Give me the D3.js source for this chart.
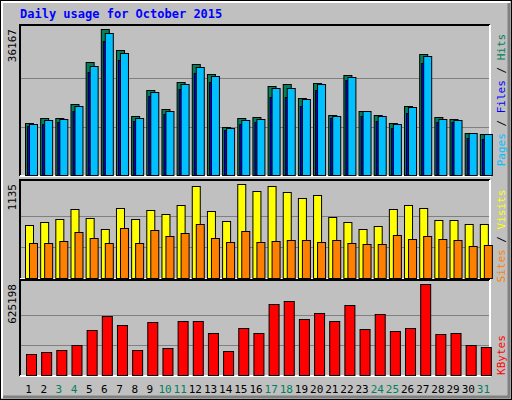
<!DOCTYPE html>
<html><head><meta charset="utf-8">
<script src="https://cdn.jsdelivr.net/npm/d3@7"></script>
<style>
  body { margin: 0; background: #fff; }
  svg text { font-family: "DejaVu Sans Mono", monospace; }
</style></head>
<body><svg id="chart" width="512" height="400"></svg>
<script>
// ---- data ----
const days = d3.range(1, 32);
const weekends = [3, 4, 10, 11, 17, 18, 24, 25, 31];
const hits = [13040,14270,14270,17710,28040,36167,31000,14760,21160,16480,23120,27550,25090,12050,14270,14510,22140,22630,19190,22880,15010,24850,15990,15010,13040,17220,30010,14510,14020,10580,10330];
const files = [12300,12790,13280,15990,25580,33210,28540,13530,19680,15250,21400,25340,23120,11320,12790,13280,19430,19430,17220,21160,14270,23620,14760,13530,11810,15500,27800,13280,13280,9350,9100];
const pages = [12800,13780,14020,17220,27050,35200,30300,14270,20670,16000,22630,26800,24600,11800,13780,14020,21650,21650,18950,22630,14760,24360,15990,14760,12800,16980,29500,14020,13780,10580,10330];
const visits = [644,680,716,836,728,596,848,716,824,776,884,1112,812,692,1135,1052,1112,1040,968,1004,740,680,596,632,836,884,848,704,704,656,656];
const sites = [428,428,452,560,488,428,608,428,584,512,548,656,488,440,572,440,452,464,464,440,464,428,416,416,524,476,512,476,464,392,404];
const kbytes = [152900,159700,173400,207700,310400,406200,344600,173400,365100,187100,372000,372000,289800,166600,324000,289800,488300,508900,385700,426700,372000,481500,317200,419900,303500,324000,625198,283000,289800,207700,194000];

const svg = d3.select("#chart");
const W = 512, H = 400;

// frame
svg.append("rect").attr("x", 0.5).attr("y", 0.5).attr("width", W - 1).attr("height", H - 1)
  .attr("fill", "#c0c0c0").attr("stroke", "#000");
svg.append("path").attr("d", `M2,${H-2} V2 H${W-2}`).attr("fill", "none").attr("stroke", "#fff").attr("stroke-width", 2);
svg.append("path").attr("d", `M3,${H-3} H${W-3} V3`).attr("fill", "none").attr("stroke", "#808080").attr("stroke-width", 3);

svg.append("text").attr("x", 20).attr("y", 18).attr("fill", "#0000ff")
  .attr("font-size", 12).attr("font-weight", "bold").text("Daily usage for October 2015");

const x = d3.scaleBand().domain(days).range([20, 490]);

function panel(top, bottom, max) {
  svg.append("path").attr("d", `M20,${bottom} V${top} H490`).attr("fill", "none").attr("stroke", "#000").attr("stroke-width", 2);
  svg.append("path").attr("d", `M490,${top} V${bottom} H20`).attr("fill", "none").attr("stroke", "#fff").attr("stroke-width", 2);
  const y = d3.scaleLinear().domain([0, max]).range([bottom, top + 4]);
  [max / 3, 2 * max / 3].forEach(v => {
    svg.append("line").attr("x1", 21).attr("x2", 489).attr("y1", Math.round(y(v)) + 0.5).attr("y2", Math.round(y(v)) + 0.5)
      .attr("stroke", "#808080");
  });
  svg.append("text").attr("transform", `translate(16,${top + 4}) rotate(-90)`)
    .attr("text-anchor", "end").attr("font-size", 11).attr("fill", "#000").text(max);
  return y;
}

function bars(data, y, off, w, color) {
  svg.append("g").selectAll("rect").data(data).join("rect")
    .attr("x", (d, i) => x(days[i]) + off + 0.5)
    .attr("y", d => Math.round(y(d)) + 0.5)
    .attr("width", w)
    .attr("height", d => y(0) - Math.round(y(d)) - 1)
    .attr("fill", color).attr("stroke", "#000");
}

function sideLabel(parts, cy) {
  const t = svg.append("text").attr("transform", `translate(505,${cy}) rotate(-90)`)
    .attr("text-anchor", "middle").attr("font-size", 11);
  parts.forEach(([s, c]) => t.append("tspan").attr("fill", c).text(s));
}

const y1 = panel(25, 176, 36167);
bars(hits, y1, 5, 8, "#00805c");
bars(files, y1, 7, 8, "#0000ff");
bars(pages, y1, 9, 8, "#00c0ff");
sideLabel([["Pages", "#00c0ff"], [" / ", "#000"], ["Files", "#0000ff"], [" / ", "#000"], ["Hits", "#00805c"]], 100);

const y2 = panel(180, 279, 1135);
bars(visits, y2, 5, 8, "#ffff00");
bars(sites, y2, 9, 8, "#ff8000");
sideLabel([["Sites", "#ff8000"], [" / ", "#000"], ["Visits", "#ffff00"]], 236);

const y3 = panel(280, 376, 625198);
bars(kbytes, y3, 6, 10, "#ff0000");
sideLabel([["KBytes", "#ff0000"]], 355);

svg.append("g").selectAll("text").data(days).join("text")
  .attr("x", d => x(d) + x.bandwidth() / 2 + 1)
  .attr("y", 393).attr("text-anchor", "middle").attr("font-size", 11)
  .attr("fill", d => weekends.includes(d) ? "#00805c" : "#000")
  .text(d => d);
</script></body></html>
